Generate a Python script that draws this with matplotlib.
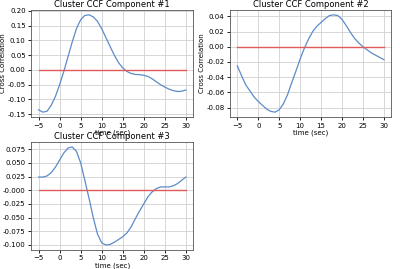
import numpy as np
import matplotlib
matplotlib.use("Agg")
import matplotlib.pyplot as plt
from matplotlib.ticker import FormatStrFormatter

# time axis (sec)
t = np.arange(-5, 31)

# cross correlation per cluster component
ccf_1 = [-0.135, -0.143, -0.140, -0.120, -0.090, -0.050, -0.005, 0.045, 0.095, 0.140,
         0.170, 0.185, 0.187, 0.180, 0.165, 0.140, 0.110, 0.080, 0.050, 0.025,
         0.007, -0.005, -0.012, -0.015, -0.016, -0.018, -0.022, -0.030, -0.040, -0.050,
         -0.058, -0.065, -0.070, -0.073, -0.072, -0.068]
ccf_2 = [-0.025, -0.038, -0.050, -0.058, -0.066, -0.072, -0.077, -0.082, -0.085, -0.086,
         -0.083, -0.075, -0.063, -0.047, -0.032, -0.016, -0.002, 0.010, 0.020, 0.027,
         0.032, 0.037, 0.041, 0.042, 0.041, 0.036, 0.028, 0.019, 0.011, 0.005,
         0.000, -0.004, -0.008, -0.011, -0.014, -0.017]
ccf_3 = [0.024, 0.024, 0.026, 0.032, 0.042, 0.055, 0.068, 0.077, 0.079, 0.071,
         0.050, 0.018, -0.015, -0.050, -0.080, -0.096, -0.100, -0.099, -0.095, -0.090,
         -0.085, -0.078, -0.067, -0.052, -0.038, -0.025, -0.012, -0.003, 0.003, 0.006,
         0.006, 0.006, 0.008, 0.012, 0.018, 0.024]

titles = ["Cluster CCF Component #1", "Cluster CCF Component #2", "Cluster CCF Component #3"]
series = [ccf_1, ccf_2, ccf_3]
yticks = [np.arange(-0.15, 0.201, 0.05),
          np.arange(-0.08, 0.041, 0.02),
          np.arange(-0.100, 0.0751, 0.025)]
yfmt = ['%.2f', '%.2f', '%.3f']

plt.rcParams['font.size'] = 5
plt.rcParams['axes.edgecolor'] = '#555555'
plt.rcParams['axes.linewidth'] = 0.6
plt.rcParams['xtick.major.width'] = 0.6
plt.rcParams['ytick.major.width'] = 0.6
plt.rcParams['xtick.major.size'] = 2.5
plt.rcParams['ytick.major.size'] = 2.5

fig = plt.figure(figsize=(4, 2.69), dpi=100)
boxes = [[0.078, 0.565, 0.405, 0.398],
         [0.575, 0.565, 0.403, 0.398],
         [0.078, 0.071, 0.405, 0.401]]

for i, (box, y, title) in enumerate(zip(boxes, series, titles)):
    ax = fig.add_axes(box)
    ax.plot(t, y, color='#5b8cc8', lw=0.9)
    ax.plot([t[0], t[-1]], [0, 0], color='#e05a5a', lw=1.0)
    ax.set_title(title, fontsize=6, pad=2)
    ax.set_xlabel('time (sec)', labelpad=1)
    if i < 2:
        ax.set_ylabel('Cross Correlation', labelpad=1)
    ax.set_xticks([-5, 0, 5, 10, 15, 20, 25, 30])
    ax.set_yticks(yticks[i])
    ax.yaxis.set_major_formatter(FormatStrFormatter(yfmt[i]))
    ax.grid(color='#d0d0d0', lw=0.6)
    ax.tick_params(pad=1.5)

fig.savefig('out.png', dpi=100)
